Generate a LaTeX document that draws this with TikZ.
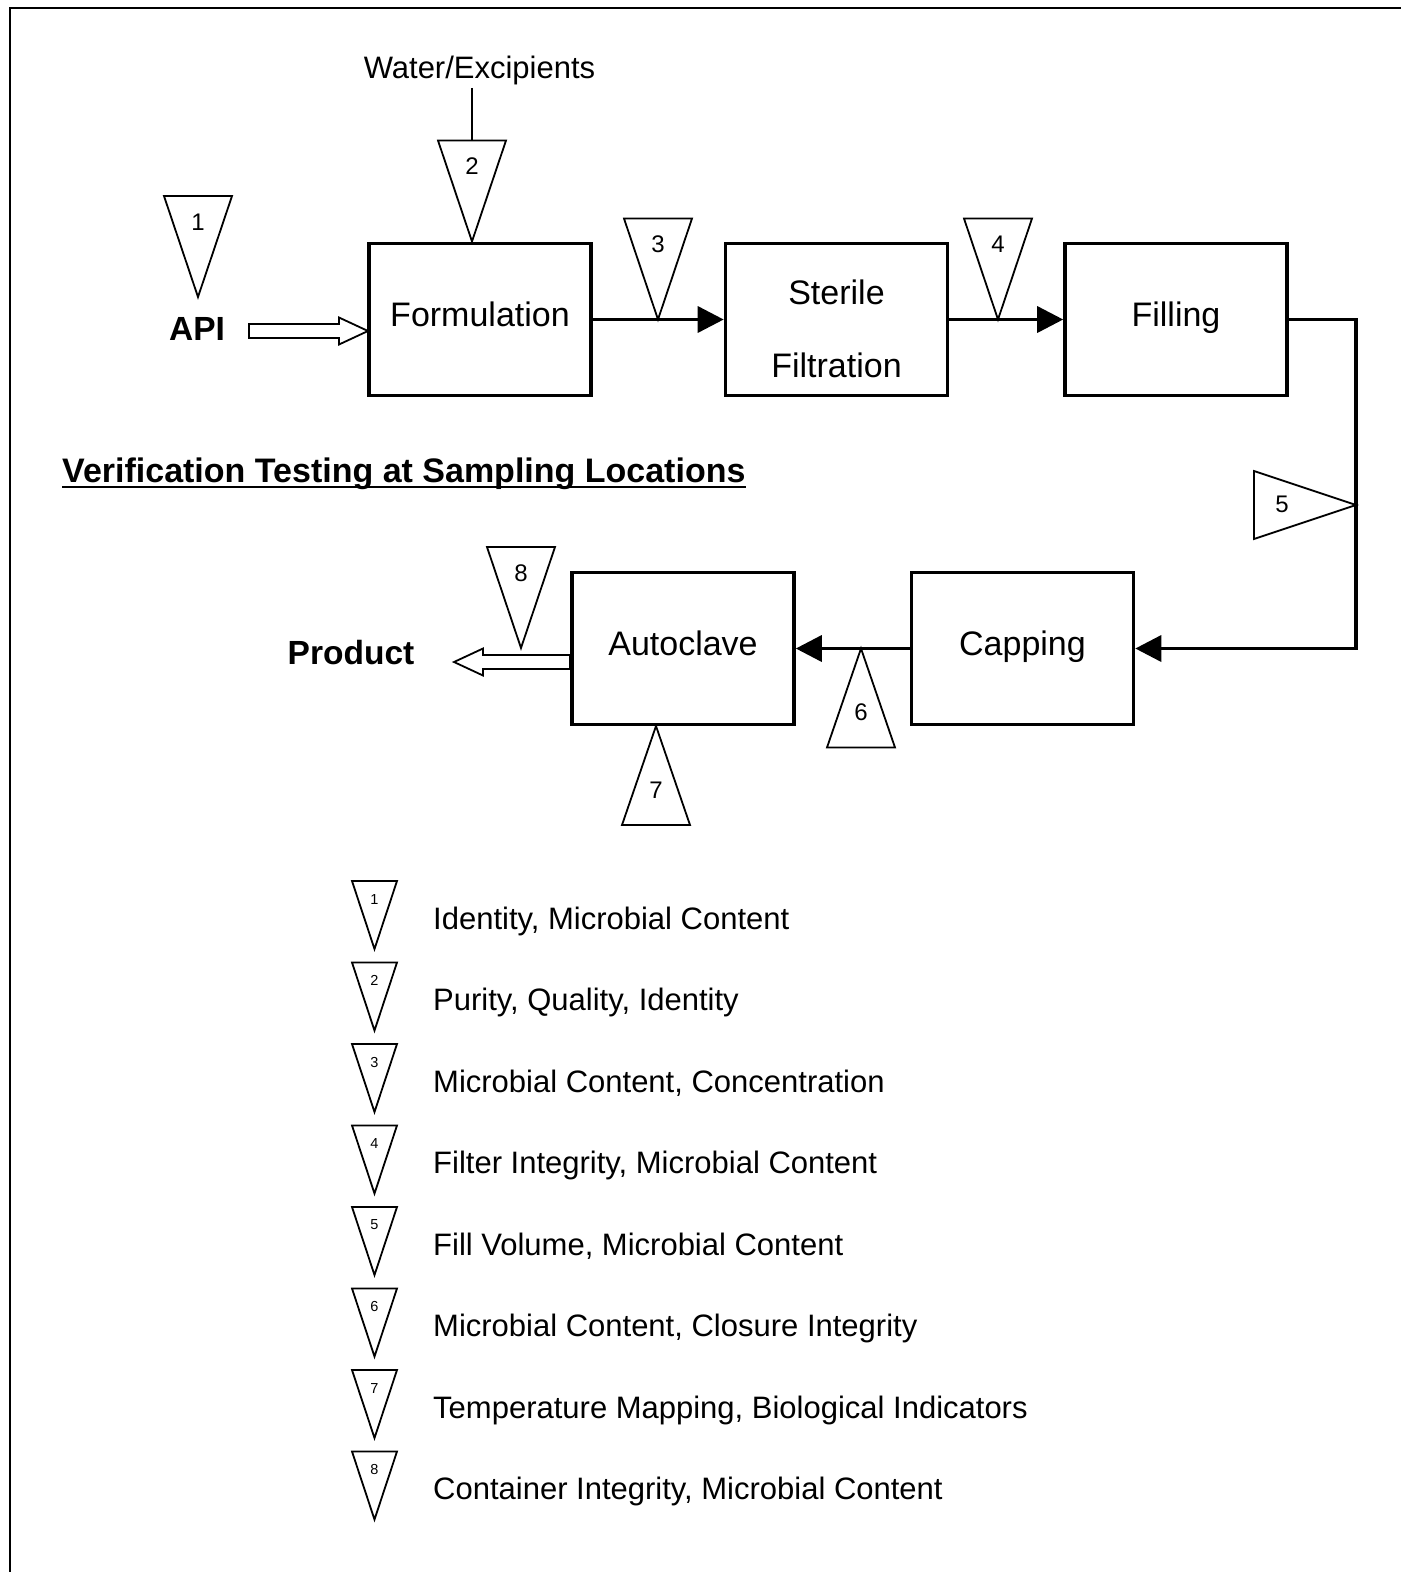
\documentclass[tikz,border=0pt]{standalone}
\usepackage{fontspec}
\setmainfont{Liberation Sans}
\usetikzlibrary{arrows.meta}
\begin{document}
\begin{tikzpicture}[x=1pt,y=-1pt,
  every node/.style={inner sep=0pt},
  proc/.style={draw, line width=3.6pt, minimum width=222pt, minimum height=152pt,
    font=\fontsize{34}{73}\selectfont},
  procline/.style={proc, text height=25pt, text depth=11pt},
  flow/.style={line width=3.6pt, -{Triangle[length=26pt,width=26pt]}},
  feed/.style={line width=1.8pt},
  hollow/.style={draw, line width=1.8pt, fill=white, line join=miter},
  samp/.style={draw, line width=1.8pt, fill=white, line join=miter},
  num/.style={font=\fontsize{24}{29}\selectfont},
  smallnum/.style={font=\fontsize{14.5}{17}\selectfont},
  plain/.style={font=\fontsize{31}{37}\selectfont},
  heavy/.style={font=\bfseries\fontsize{33.5}{40}\selectfont},
  % sampling point, apex pointing down onto the stream
  pics/sdown/.style={code={
    \draw[samp] (0,0) -- (-34,-101) -- (34,-101) -- cycle;
    \coordinate (-top) at (0,-101);
    \node[num] (-n) at (0,-75) {#1};}},
  % sampling point, apex pointing up onto the stream
  pics/sampleup/.style={code={
    \draw[samp] (0,0) -- (-34,99) -- (34,99) -- cycle;
    \node[num] (-n) at (0,64) {#1};}},
  % sampling point, apex pointing right onto the stream
  pics/sampleright/.style={code={
    \draw[samp] (0,0) -- (-102,-34) -- (-102,34) -- cycle;
    \node[num] (-n) at (-74,-1) {#1};}},
  % small marker used in the key
  pics/samplekey/.style={code={
    \draw[samp] (0,0) -- (-22.5,-68) -- (22.5,-68) -- cycle;
    \node[smallnum] (-n) at (0,-50) {#1};}},
  % outlined block arrow, tip at the origin, length #1
  pics/blockarrow/.style={code={
    \draw[hollow] (0,0) -- (-29,-13.5) -- (-29,-7) -- (-#1,-7) -- (-#1,7)
      -- (-29,7) -- (-29,13.5) -- cycle;}},
]
\fill[white] (0,0) rectangle (1401,1572);
\useasboundingbox (0,0) rectangle (1401,1572);

% frame
\draw[line width=2pt] (10,1572) -- (10,8) -- (1401,8);

% process steps
\node[procline] (form) at (480,319.5) {Formulation};
\node[proc, align=center] (sterile) at (836.5,319.5) {\rule{0pt}{43pt}Sterile\\Filtration};
\node[procline] (filling) at (1176,319.5) {Filling};
\node[procline] (capping) at (1022.5,648.5) {Capping};
\node[procline] (autoclave) at (683,648.5) {Autoclave};

% product stream
\coordinate (bendtop) at (1356,319.5);
\coordinate (bendbot) at (1356,648.5);
\draw[flow] (form) -- (sterile);
\draw[flow] (sterile) -- (filling);
\draw[flow] (filling.east) -- (bendtop) -- (bendbot) -- (capping.east);
\draw[flow] (capping) -- (autoclave);

% inputs and output
\node[plain, anchor=base, outer ysep=3.5pt] (water) at (479.5,78) {Water/Excipients};
\node[heavy, anchor=base] (api) at (197,340) {API};
\node[heavy, anchor=base] (product) at (351,664) {Product};
\pic at (368,331) {blockarrow=119};
\pic[rotate=180] at (454,662) {blockarrow=116};

% sampling locations
\pic (s1) at (198,297) {sdown=1};
\pic (s2) at (472,241.5) {sdown=2};
\draw[feed] (water.south -| s2-top) -- (s2-top);
\pic (s3) at (658,319.5) {sdown=3};
\pic (s4) at (998,319.5) {sdown=4};
\pic (s5) at (1356,505) {sampleright=5};
\pic (s6) at (861,648.5) {sampleup=6};
\pic (s7) at (656,726) {sampleup=7};
\pic (s8) at (521,648) {sdown=8};

% heading
\node[font=\bfseries\fontsize{34}{41}\selectfont, anchor=base west] (title) at (62,482)
  {Verification Testing at Sampling Locations};
\draw[line width=2.6pt] ([yshift=-5pt]title.base west) -- ([yshift=-5pt]title.base east);

% key
\foreach \i/\txt in {
  1/{Identity, Microbial Content},
  2/{Purity, Quality, Identity},
  3/{Microbial Content, Concentration},
  4/{Filter Integrity, Microbial Content},
  5/{Fill Volume, Microbial Content},
  6/{Microbial Content, Closure Integrity},
  7/{Temperature Mapping, Biological Indicators},
  8/{Container Integrity, Microbial Content}}{
  \pic (k\i) at (374.5,{881+(\i-1)*81.5+68}) {samplekey=\i};
  \node[plain, anchor=base west] (key\i) at (433,{881+(\i-1)*81.5+48}) {\txt};
}
\end{tikzpicture}
\end{document}
